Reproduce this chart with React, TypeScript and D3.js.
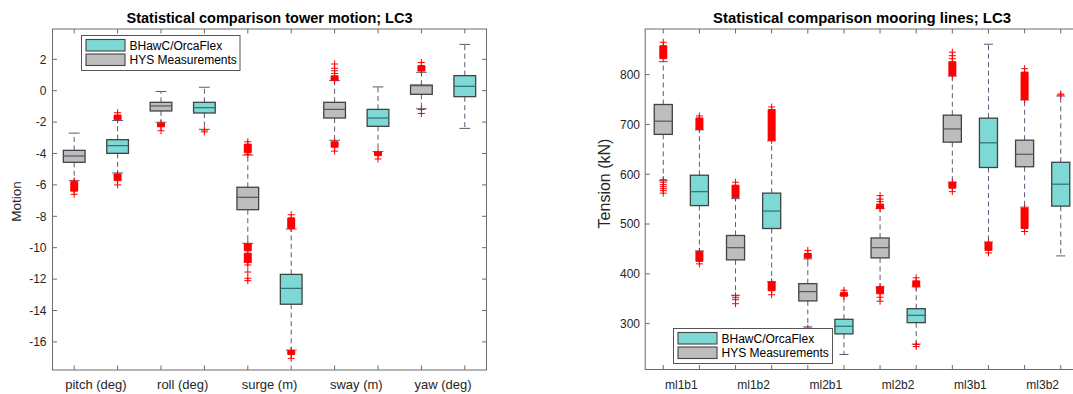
import React from 'react';
import * as d3 from 'd3';

// ---------- Left panel: tower motion (boxes alternate HYS / BHawC) ----------
const motionCats = ['pitch (deg)', 'roll (deg)', 'surge (m)', 'sway (m)', 'yaw (deg)'];
const motionYTicks = [2, 0, -2, -4, -6, -8, -10, -12, -14, -16];
const motionWhiskerLo = [-5.73, -5.24, -2.01, -2.46, -9.72, -16.52, -3.16, -3.88, -1.15, -2.4];
const motionQ1 = [-4.56, -3.99, -1.29, -1.42, -7.58, -13.6, -1.74, -2.27, -0.23, -0.38];
const motionMedian = [-4.16, -3.5, -0.97, -1.08, -6.79, -12.59, -1.19, -1.74, 0.32, 0.28];
const motionQ3 = [-3.8, -3.12, -0.74, -0.74, -6.15, -11.7, -0.74, -1.19, 0.36, 0.96];
const motionWhiskerHi = [-2.7, -1.9, -0.05, 0.22, -4.1, -8.81, 0.64, 0.24, 1.17, 2.95];
const motionOutlierBands: number[][][] = [
  [[-6.4, -5.8]],
  [[-1.85, -1.55], [-5.73, -5.3]],
  [[-2.3, -2.06]],
  [],
  [[-3.95, -3.4], [-10.2, -9.75], [-10.95, -10.35]],
  [[-8.77, -8.1], [-16.8, -16.55]],
  [[0.66, 0.95], [-3.6, -3.25]],
  [[-4.14, -3.9]],
  [[1.25, 1.6]],
  [],
];
const motionOutlierPoints: number[][] = [
  [-6.6, -5.75],
  [-1.4, -6.0],
  [-2.55],
  [-2.5, -2.62],
  [-3.25, -4.05, -11.1, -11.55, -11.95, -12.1],
  [-7.9, -17.05],
  [1.1, 1.27, 1.43, 1.7, -3.85],
  [-4.35],
  [1.8, -1.2, -1.45],
  [],
];

// ---------- Right panel: mooring line tension ----------
const mooringCats = ['ml1b1', 'ml1b2', 'ml2b1', 'ml2b2', 'ml3b1', 'ml3b2'];
const mooringYTicks = [300, 400, 500, 600, 700, 800];
const tensionWhiskerLo = [587, 446, 357, 384, 293.5, 238, 374, 259, 584, 464, 534, 436];
const tensionQ1 = [680, 537, 428, 491, 345.6, 279.4, 432, 302, 664.4, 613.5, 615, 536];
const tensionMedian = [706.5, 565, 452.5, 526, 364.3, 294.7, 452.5, 316.7, 691, 663, 640, 580];
const tensionQ3 = [740, 598, 477, 562, 380.3, 308.7, 472, 330, 718.6, 712.6, 668.4, 624];
const tensionWhiskerHi = [826, 689, 551, 667, 430, 357, 531, 374, 797, 861, 749, 757];
const tensionOutlierBands: number[][][] = [
  [[832, 858]],
  [[690, 713], [425, 445]],
  [[553, 578]],
  [[668, 730], [366, 384]],
  [[432, 441]],
  [[355, 363]],
  [[531, 540], [360, 374]],
  [[374, 386]],
  [[798, 826], [572, 584]],
  [[447, 463]],
  [[750, 805], [491, 532]],
  [],
];
const tensionOutlierPoints: number[][] = [
  [865, 589, 584, 579, 575, 571, 567, 562],
  [717, 420],
  [584, 356, 352, 348, 340],
  [735, 358],
  [447, 291],
  [367],
  [545, 550, 557, 353, 345],
  [392, 258, 254],
  [832, 838, 845, 565],
  [442],
  [812, 485],
  [759, 761],
];

const seriesNames = ['BHawC/OrcaFlex', 'HYS Measurements'];
const CYAN = '#7ed8d4';
const GRAY = '#bdbdbd';
const FONT = '"Liberation Sans", Arial, Helvetica, sans-serif';
const AXIS = '#6a6a6a';
const TXT = '#262626';
const WHISK = '#5e5776';

type PanelProps = {
  x0: number; x1: number; yTop: number; yBot: number; domain: [number, number];
  yTicks: number[]; cats: string[];
  lo: number[]; q1: number[]; med: number[]; q3: number[]; hi: number[];
  bands: number[][][]; points: number[][];
  title: string; titleSize: number;
  ylabel: string; ylabelSize: number; ylabelX: number; ylabelY: number;
  catSize: number; tickLabelRight: number;
  legend: { x: number; y: number; w: number; h: number; fs: number };
};

function Panel(p: PanelProps) {
  const n = p.lo.length;
  const x = d3.scaleLinear().domain([0.5, n + 0.5]).range([p.x0, p.x1]);
  const y = d3.scaleLinear().domain(p.domain).range([p.yBot, p.yTop]);
  const bw = x(1.25) - x(1);
  const cw = (x(1.125) - x(1));
  const tl = 4.5;
  const idx = d3.range(n);
  const plus = (cx: number, cy: number, k: string) => (
    <path key={k} d={`M${cx - 3.5},${cy}H${cx + 3.5}M${cx},${cy - 3.5}V${cy + 3.5}`} stroke="#ff0000" strokeWidth={1} fill="none" />
  );
  const lg = p.legend;
  const rowH = (lg.h - 6) / 2;
  return (
    <g fontFamily={FONT}>
      <text x={(p.x0 + p.x1) / 2} y={p.yTop - 6.5} textAnchor="middle" fontWeight="bold" fontSize={p.titleSize} fill="#000">{p.title}</text>
      {/* whiskers */}
      {idx.map((i) => {
        const cx = x(i + 1);
        return (
          <g key={'w' + i} stroke={WHISK} strokeWidth={1} fill="none">
            <line x1={cx} x2={cx} y1={y(p.q3[i])} y2={y(p.hi[i])} strokeDasharray="5,3.5" />
            <line x1={cx} x2={cx} y1={y(p.q1[i])} y2={y(p.lo[i])} strokeDasharray="5,3.5" />
            <line x1={cx - cw} x2={cx + cw} y1={y(p.hi[i])} y2={y(p.hi[i])} />
            <line x1={cx - cw} x2={cx + cw} y1={y(p.lo[i])} y2={y(p.lo[i])} />
          </g>
        );
      })}
      {/* outliers */}
      {idx.map((i) => {
        const cx = x(i + 1);
        return (
          <g key={'o' + i}>
            {p.bands[i].map((b, j) => (
              <g key={j}>
                <rect x={cx - 4} width={8} y={y(Math.max(b[0], b[1]))} height={Math.abs(y(b[0]) - y(b[1]))} fill="#ff0000" />
                {plus(cx, y(b[0]), 'a')}
                {plus(cx, y(b[1]), 'b')}
              </g>
            ))}
            {p.points[i].map((v, j) => plus(cx, y(v), 'p' + j))}
          </g>
        );
      })}
      {/* boxes */}
      {idx.map((i) => {
        const cx = x(i + 1);
        const cyan = i % 2 === 1;
        return (
          <g key={'b' + i}>
            <rect x={cx - bw} width={2 * bw} y={y(p.q3[i])} height={y(p.q1[i]) - y(p.q3[i])} fill={cyan ? CYAN : GRAY} stroke="#3d4444" strokeWidth={1.3} />
            <line x1={cx - bw} x2={cx + bw} y1={y(p.med[i])} y2={y(p.med[i])} stroke={cyan ? '#2f6f72' : '#555566'} strokeWidth={1.2} />
          </g>
        );
      })}
      {/* frame */}
      <rect x={p.x0} y={p.yTop} width={p.x1 - p.x0} height={p.yBot - p.yTop} fill="none" stroke={AXIS} strokeWidth={1} />
      {idx.map((i) => (
        <g key={'t' + i} stroke={AXIS}>
          <line x1={x(i + 1)} x2={x(i + 1)} y1={p.yBot} y2={p.yBot - tl} />
          <line x1={x(i + 1)} x2={x(i + 1)} y1={p.yTop} y2={p.yTop + tl} />
        </g>
      ))}
      {p.yTicks.map((t) => (
        <g key={'y' + t}>
          <line x1={p.x0} x2={p.x0 + tl} y1={y(t)} y2={y(t)} stroke={AXIS} />
          <line x1={p.x1} x2={p.x1 - tl} y1={y(t)} y2={y(t)} stroke={AXIS} />
          <text x={p.tickLabelRight} y={y(t) + 4.3} textAnchor="end" fontSize={12} fill={TXT}>{String(t).replace('-', '\u2010')}</text>
        </g>
      ))}
      {p.cats.map((c, k) => (
        <text key={c} x={(x(2 * k + 1) + x(2 * k + 2)) / 2} y={389} textAnchor="middle" fontSize={p.catSize} fill={TXT}>{c}</text>
      ))}
      <text transform={`translate(${p.ylabelX},${p.ylabelY}) rotate(-90)`} textAnchor="middle" fontSize={p.ylabelSize} fill={TXT}>{p.ylabel}</text>
      {/* legend */}
      <g>
        <rect x={lg.x} y={lg.y} width={lg.w} height={lg.h} fill="#fff" stroke="#555" strokeWidth={1} />
        {seriesNames.map((s, k) => (
          <g key={s}>
            <rect x={lg.x + 4.5} y={lg.y + 4 + k * rowH} width={39} height={rowH - 3} fill={k === 0 ? CYAN : GRAY} stroke="#444" strokeWidth={1.1} />
            <text x={lg.x + 48} y={lg.y + 4 + k * rowH + (rowH - 3) / 2 + 4.3} fontSize={lg.fs} fill="#000">{s}</text>
          </g>
        ))}
      </g>
    </g>
  );
}

export default function App() {
  return (
    <svg width={1073} height={394} style={{ position: 'absolute', left: 0, top: 0, background: '#fff' }}>
      <rect width={1073} height={394} fill="#fff" />
      <Panel
        x0={52.5} x1={486.5} yTop={29} yBot={370} domain={[-17.79, 3.93]}
        yTicks={motionYTicks} cats={motionCats}
        lo={motionWhiskerLo} q1={motionQ1} med={motionMedian} q3={motionQ3} hi={motionWhiskerHi}
        bands={motionOutlierBands} points={motionOutlierPoints}
        title="Statistical comparison tower motion; LC3" titleSize={14.5}
        ylabel="Motion" ylabelSize={13.5} ylabelX={20.5} ylabelY={201.5}
        catSize={13} tickLabelRight={46.5}
        legend={{ x: 81.5, y: 35.5, w: 158.5, h: 35, fs: 12 }}
      />
      <Panel
        x0={645.2} x1={1078.8} yTop={29} yBot={369.5} domain={[207.9, 891.6]}
        yTicks={mooringYTicks} cats={mooringCats}
        lo={tensionWhiskerLo} q1={tensionQ1} med={tensionMedian} q3={tensionQ3} hi={tensionWhiskerHi}
        bands={tensionOutlierBands} points={tensionOutlierPoints}
        title="Statistical comparison mooring lines; LC3" titleSize={14.9}
        ylabel="Tension (kN)" ylabelSize={16} ylabelX={609.5} ylabelY={183.5}
        catSize={12} tickLabelRight={640}
        legend={{ x: 673.5, y: 328.5, w: 159, h: 35, fs: 12 }}
      />
    </svg>
  );
}
